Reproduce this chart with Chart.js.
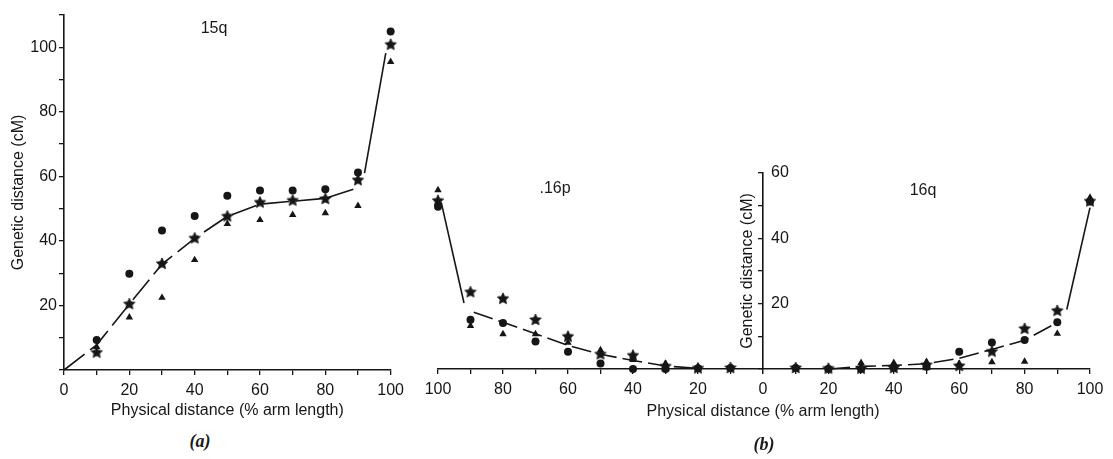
<!DOCTYPE html>
<html>
<head>
<meta charset="utf-8">
<script src="https://cdn.jsdelivr.net/npm/chart.js@4.4.1/dist/chart.umd.min.js"></script>
<style>
  body { margin: 0; background: #fff; }
  #wrap { position: relative; width: 1113px; height: 459px; overflow: hidden;
          font-family: "Liberation Sans", Arial, sans-serif; color: #1a1a1a; }
  canvas { position: absolute; top: 0; }
  .lbl { position: absolute; font-size: 16px; transform: translate(-50%, -50%); white-space: nowrap; }
  .fig { position: absolute; font: italic bold 18px "Liberation Serif", serif; transform: translate(-50%, -50%); }
</style>
</head>
<body>
<div id="wrap">
  <canvas id="c15q" width="410" height="424" style="left:0"></canvas>
  <canvas id="c16p" width="383" height="424" style="left:400px"></canvas>
  <canvas id="c16q" width="375" height="424" style="left:738px"></canvas>

  <div class="lbl" style="left:214px;top:28px">15q</div>
  <div class="lbl" style="left:555px;top:188px">.16p</div>
  <div class="lbl" style="left:923px;top:190px">16q</div>
  <div class="lbl" style="left:763px;top:411px">Physical distance (% arm length)</div>
  <div class="fig" style="left:200px;top:441px">(a)</div>
  <div class="fig" style="left:764px;top:444px">(b)</div>
</div>

<script>
// ---- data: panel (a) 15q
const xA = [10, 20, 30, 40, 50, 60, 70, 80, 90, 100];
const circA = [9.3, 29.8, 43.2, 47.7, 54.0, 55.6, 55.6, 56.0, 61.2, 104.9];
const starA = [5.4, 20.4, 32.9, 40.8, 47.6, 51.9, 52.5, 53.0, 58.8, 100.8];
const triA  = [7.2, 16.3, 22.4, 34.1, 45.3, 46.5, 48.1, 48.6, 50.9, 95.5];
const fitA_dashX = [0, 10, 20, 30, 40, 50, 60, 70, 80, 89.5];
const fitA_dashY = [0, 7.8, 20.4, 32.8, 40.8, 47.6, 51.4, 52.3, 53.2, 56.3];
const fitA_solidX = [92, 98.5];
const fitA_solidY = [61, 98.2];

// ---- data: panel (b) 16p
const x16p = [100, 90, 80, 70, 60, 50, 40, 30, 20, 10];
const circ16p = [49.7, 15.1, 14.1, 8.4, 5.3, 1.7, 0, 0, 0.2, 0.3];
const star16p = [51.5, 23.5, 21.5, 15.0, 9.9, 4.5, 4.1, 0.8, 0.2, 0.3];
const tri16p  = [54.8, 13.2, 10.7, 10.7, 8.1, 5.8, 2.8, 1.7, 0.4, 0.4];
const fit16p_solidX = [99, 92];
const fit16p_solidY = [51, 20.2];
const fit16p_dashX = [89, 80, 70, 60, 50, 40, 30, 20];
const fit16p_dashY = [17.4, 14.3, 10.8, 7.2, 4.5, 2.6, 0.9, 0.2];

// ---- data: panel (b) 16q
const x16q = [10, 20, 30, 40, 50, 60, 70, 80, 90, 100];
const circ16q = [0.3, 0, 0, 0.3, 0.7, 5.3, 8.1, 8.9, 14.3, 51.3];
const star16q = [0.3, 0.1, 0.1, 0.3, 1.2, 0.9, 5.3, 12.3, 17.8, 51.3];
const tri16q  = [0.5, 0.3, 1.9, 1.9, 2.2, 1.6, 2.1, 2.3, 10.8, 52.5];
const fit16q_dashX = [20.5, 30, 40, 50, 60, 70, 80, 88.3];
const fit16q_dashY = [0, 0.8, 1.1, 1.6, 3.3, 6, 8.8, 13.3];
const fit16q_solidX = [92.9, 100];
const fit16q_solidY = [18.2, 49.4];

const INK = '#161616';
const FONT = { family: '"Liberation Sans", Arial, sans-serif', size: 16 };

// filled five-pointed star, used as a point image
function starImage(r) {
	const c = document.createElement('canvas');
	const s = Math.ceil(r * 2) + 2;
	c.width = c.height = s;
	const g = c.getContext('2d');
	g.fillStyle = INK;
	g.strokeStyle = INK;
	g.lineWidth = 0.8;
	g.beginPath();
	for (let i = 0; i < 10; i++) {
		const rad = i % 2 ? r * 0.48 : r;
		const a = -Math.PI / 2 + i * Math.PI / 5;
		const px = s / 2 + rad * Math.cos(a), py = s / 2 + rad * Math.sin(a);
		if (i === 0) g.moveTo(px, py); else g.lineTo(px, py);
	}
	g.closePath();
	g.fill();
	g.stroke();
	return c;
}
const STAR = starImage(6);

const pts = (xs, ys) => xs.map((x, i) => ({ x: x, y: ys[i] }));

function markers(xs, circ, star, tri) {
	const base = { showLine: false, clip: false, backgroundColor: INK, borderColor: INK, borderWidth: 0 };
	return [
		Object.assign({ data: pts(xs, circ), pointStyle: 'circle', pointRadius: 4 }, base),
		Object.assign({ data: pts(xs, star), pointStyle: STAR, pointRadius: 5 }, base),
		Object.assign({ data: pts(xs, tri), pointStyle: 'triangle', pointRadius: 4.3 }, base),
	];
}
function fitLine(xs, ys, dash) {
	return { data: pts(xs, ys), showLine: true, pointRadius: 0, borderColor: INK, borderWidth: 1.6,
		borderDash: dash, fill: false, clip: false };
}

function xAxis(opts) {
	return {
		type: 'linear', min: 0, max: 100, reverse: !!opts.reverse,
		border: { color: INK, width: 1.6 },
		grid: { drawOnChartArea: false, drawTicks: true, tickLength: 5, color: INK, lineWidth: 1.3 },
		ticks: { stepSize: 10, autoSkip: false, maxRotation: 0, padding: 6, color: INK, font: FONT,
			callback: v => (v % 20 === 0 && !(opts.hideZero && v === 0)) ? String(v) : '' },
		title: opts.title ? { display: true, text: opts.title, color: INK, font: FONT, padding: { top: 0, bottom: 4 } } : { display: false },
		afterFit: s => { s.height = opts.height; },
	};
}
function yAxis(opts) {
	return {
		type: 'linear', min: 0, max: opts.max, display: opts.display !== false,
		border: { color: INK, width: 1.6 },
		grid: { drawOnChartArea: false, drawTicks: true, tickLength: 5, color: INK, lineWidth: 1.3 },
		ticks: { stepSize: 10, autoSkip: false, padding: opts.mirror ? 8 : 2, mirror: !!opts.mirror, color: INK, font: FONT,
			callback: v => (v > 0 && v % 20 === 0) ? String(v) : '' },
		title: { display: true, text: 'Genetic distance (cM)', color: INK, font: FONT, padding: { top: opts.titlePad, bottom: 0 } },
		afterFit: s => { s.width = opts.width; },
	};
}

function makeChart(id, datasets, scales, padding) {
	return new Chart(document.getElementById(id), {
		type: 'scatter',
		data: { datasets: datasets },
		options: {
			responsive: false, animation: false,
			layout: { padding: padding },
			plugins: { legend: { display: false }, tooltip: { enabled: false } },
			scales: scales,
		},
	});
}

// (a) 15q
makeChart('c15q',
	markers(xA, circA, starA, triA).concat([
		fitLine(fitA_dashX, fitA_dashY, [26, 7]),
		fitLine(fitA_solidX, fitA_solidY, []),
	]),
	{ x: xAxis({ height: 54, title: 'Physical distance (% arm length)' }),
	  y: yAxis({ max: 110, width: 64, titlePad: 9 }) },
	{ top: 15, right: 17, left: 0, bottom: 0 });

// (b) 16p, distance runs from 100 down to the centromere
makeChart('c16p',
	markers(x16p, circ16p, star16p, tri16p).concat([
		fitLine(fit16p_solidX, fit16p_solidY, []),
		fitLine(fit16p_dashX, fit16p_dashY, [20, 6]),
	]),
	{ x: xAxis({ height: 55, reverse: true }),
	  y: yAxis({ max: 60, display: false, width: 0, titlePad: 0 }) },
	{ top: 173, right: 20, left: 38, bottom: 0 });

// (b) 16q, shares the centre axis
makeChart('c16q',
	markers(x16q, circ16q, star16q, tri16q).concat([
		fitLine(fit16q_dashX, fit16q_dashY, [20, 6]),
		fitLine(fit16q_solidX, fit16q_solidY, []),
	]),
	{ x: xAxis({ height: 55, hideZero: true }),
	  y: yAxis({ max: 60, width: 25, mirror: true, titlePad: 0 }) },
	{ top: 173, right: 23, left: 0, bottom: 0 });
</script>
</body>
</html>
